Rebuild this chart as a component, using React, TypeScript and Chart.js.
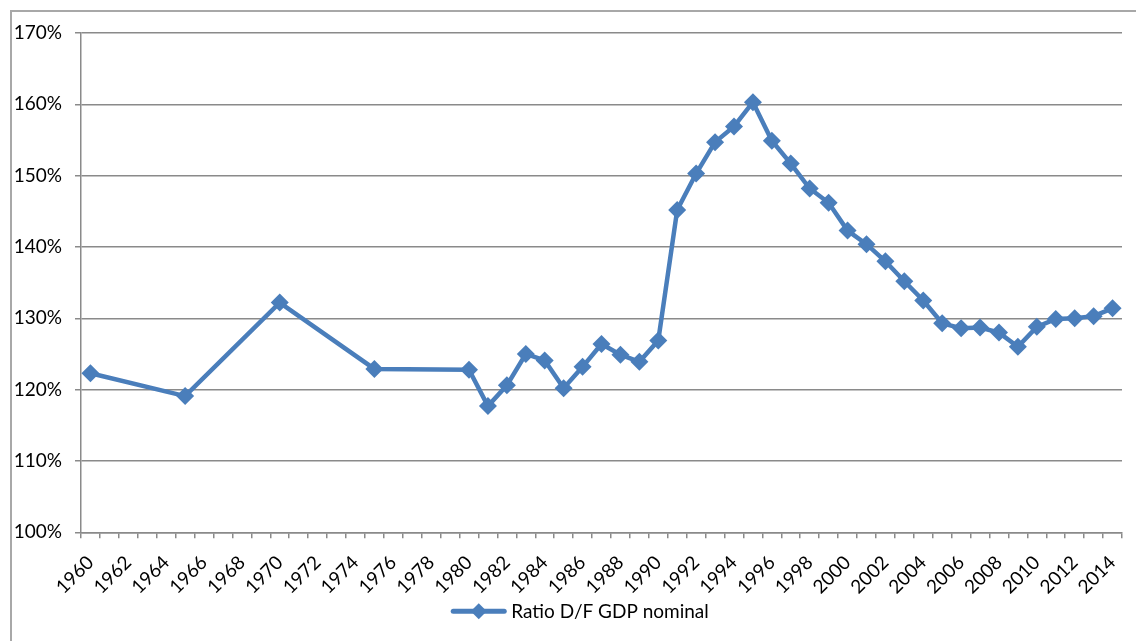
import React, { useEffect, useRef } from 'react';
import { Chart, registerables } from 'chart.js';

Chart.register(...registerables);

// Category years on the axis (one category per year)
const firstYear = 1960;
const lastYear = 2014;
const categories: string[] = [];
for (let y = firstYear; y <= lastYear; y++) categories.push(String(y));

// Observed years and values (ratio, %)
const observedYears = [
  1960, 1965, 1970, 1975, 1980, 1981, 1982, 1983, 1984, 1985, 1986, 1987, 1988, 1989,
  1990, 1991, 1992, 1993, 1994, 1995, 1996, 1997, 1998, 1999, 2000, 2001, 2002, 2003,
  2004, 2005, 2006, 2007, 2008, 2009, 2010, 2011, 2012, 2013, 2014,
];
const ratioValues = [
  122.3, 119.1, 132.2, 122.9, 122.8, 117.7, 120.6, 125.0, 124.1, 120.2, 123.2, 126.4, 124.9, 123.9,
  126.9, 145.2, 150.3, 154.7, 156.9, 160.3, 154.9, 151.7, 148.2, 146.2, 142.3, 140.4, 138.0, 135.2,
  132.5, 129.3, 128.6, 128.7, 128.0, 126.0, 128.8, 129.9, 130.0, 130.3, 131.4,
];

const seriesName = 'Ratio D/F GDP nominal';
const yMin = 100;
const yMax = 170;
const yStep = 10;

const BLUE = '#4a7ebb';
const GRID = '#8a8a8a';
const FONT = 'Lato';
const FONT_SIZE = 19;

const legendPlugin = {
  id: 'lineLegend',
  afterDraw(chart: any) {
    const ctx = chart.ctx as CanvasRenderingContext2D;
    ctx.save();
    ctx.font = `${FONT_SIZE}px ${FONT}`;
    const tw = ctx.measureText(seriesName).width;
    const lineW = 55;
    const gap = 5;
    const total = lineW + gap + tw;
    const x0 = chart.width / 2 - total / 2;
    const y = chart.chartArea.bottom + 79;
    ctx.strokeStyle = BLUE;
    ctx.lineWidth = 5;
    ctx.lineCap = 'round';
    ctx.beginPath();
    ctx.moveTo(x0 + 2, y);
    ctx.lineTo(x0 + lineW - 2, y);
    ctx.stroke();
    const cx = x0 + lineW / 2;
    const r = 8;
    ctx.fillStyle = BLUE;
    ctx.beginPath();
    ctx.moveTo(cx, y - r);
    ctx.lineTo(cx + r, y);
    ctx.lineTo(cx, y + r);
    ctx.lineTo(cx - r, y);
    ctx.closePath();
    ctx.fill();
    ctx.fillStyle = '#000';
    ctx.textBaseline = 'middle';
    ctx.textAlign = 'left';
    ctx.fillText(seriesName, x0 + lineW + gap, y + 1);
    ctx.restore();
  },
};

export default function App() {
  const canvasRef = useRef<HTMLCanvasElement | null>(null);

  useEffect(() => {
    const canvas = canvasRef.current;
    if (!canvas) return;
    const data = categories.map((c) => {
      const i = observedYears.indexOf(Number(c));
      return i >= 0 ? ratioValues[i] : null;
    });
    const chart = new Chart(canvas, {
      type: 'line',
      data: {
        labels: categories,
        datasets: [
          {
            label: seriesName,
            data,
            borderColor: BLUE,
            backgroundColor: BLUE,
            borderWidth: 4.5,
            pointStyle: 'rectRot',
            pointRadius: 9,
            pointBackgroundColor: BLUE,
            pointBorderColor: BLUE,
            pointBorderWidth: 0,
            spanGaps: true,
            tension: 0,
          },
        ],
      },
      options: {
        responsive: false,
        animation: false,
        devicePixelRatio: 1,
        layout: { padding: { top: 33, right: 38, left: 0, bottom: 0 } },
        plugins: {
          legend: { display: false },
          tooltip: { enabled: false },
        },
        scales: {
          x: {
            type: 'category',
            offset: true,
            afterFit: (scale: any) => {
              scale.height = 108.7;
            },
            grid: {
              offset: true,
              drawOnChartArea: false,
              drawTicks: true,
              tickLength: 6,
              color: GRID,
              lineWidth: 1.5,
            },
            border: { color: GRID, width: 1.5 },
            ticks: {
              autoSkip: false,
              maxRotation: 45,
              minRotation: 45,
              padding: 13,
              color: '#000',
              font: { family: FONT, size: FONT_SIZE },
              callback: function (this: any, _v: any, index: number) {
                const lab = categories[index];
                return Number(lab) % 2 === 0 ? lab : '';
              },
            },
          },
          y: {
            min: yMin,
            max: yMax,
            afterFit: (scale: any) => {
              scale.width = 81;
            },
            grid: {
              color: GRID,
              lineWidth: 1.5,
              drawTicks: true,
              tickLength: 6,
            },
            border: { color: GRID, width: 1.5 },
            ticks: {
              stepSize: yStep,
              padding: 13,
              color: '#000',
              font: { family: FONT, size: FONT_SIZE },
              callback: (v: any) => `${v}%`,
            },
          },
        },
      },
      plugins: [legendPlugin],
    });
    return () => chart.destroy();
  }, []);

  return (
    <div
      style={{
        position: 'fixed',
        left: 0,
        top: 0,
        width: 1136,
        height: 641,
        overflow: 'hidden',
        background: '#fff',
      }}
    >
      <div
        style={{
          position: 'absolute',
          left: 10,
          top: 10,
          width: 1200,
          height: 700,
          border: '2px solid #a8a8a8',
          boxSizing: 'border-box',
        }}
      />
      <canvas
        ref={canvasRef}
        width={1160}
        height={641}
        style={{ position: 'absolute', left: 0, top: 0, width: 1160, height: 641 }}
      />
    </div>
  );
}
